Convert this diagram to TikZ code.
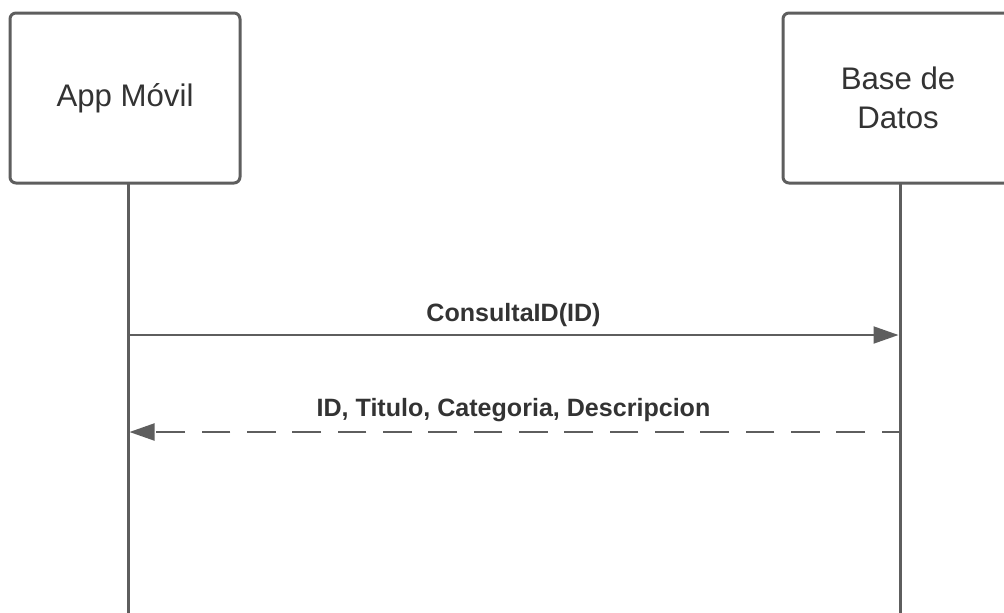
\documentclass[tikz,border=0pt]{standalone}
\usepackage{fontspec}
\setmainfont{Liberation Sans}
\usetikzlibrary{arrows.meta}
\definecolor{strk}{HTML}{5E5E5E}
\definecolor{txt}{HTML}{333333}
\tikzset{
  actor/.style={draw=strk, line width=2.25pt, rounded corners=4.5pt, fill=white,
    minimum width=172.5pt, minimum height=127.5pt, inner sep=0pt, text=txt,
    font=\fontsize{23.4}{29}\selectfont, align=center},
  lifeline/.style={draw=strk, line width=2.25pt},
  msg/.style={draw=strk, line width=1.5pt, -{Triangle[length=18.75pt,width=12.75pt]}},
  ret/.style={msg, dash pattern=on 21.5pt off 12.5pt, dash phase=8.5pt},
  lbl/.style={text=txt, font=\bfseries\fontsize{18.8}{22}\selectfont, anchor=base, inner sep=0pt}
}
\begin{document}
\begin{tikzpicture}[x=0.75pt,y=-0.75pt]
\useasboundingbox (0,0) rectangle (1004,612);
\coordinate (appEnd) at (128,620);
\coordinate (dbEnd) at (900,620);
\draw[lifeline] (128,184) coordinate (appTop) -- (appEnd);
\draw[lifeline] (900,184) coordinate (dbTop) -- (dbEnd);
\node[actor] (app) at (125,98) {App Móvil};
\node[actor] (db) at (898,98) {Base de\\Datos};
\coordinate (m1a) at (128,335);
\coordinate (m1b) at (898.5,335);
\coordinate (m2a) at (899,432);
\coordinate (m2b) at (129.5,432);
\draw[msg] (m1a) -- (m1b);
\draw[ret] (m2a) -- (m2b);
\node[lbl] (l1) at (513.5,321.7) {ConsultaID(ID)};
\node[lbl] (l2) at (513.5,416.7) {ID, Titulo, Categoria, Descripcion};
\end{tikzpicture}
\end{document}
